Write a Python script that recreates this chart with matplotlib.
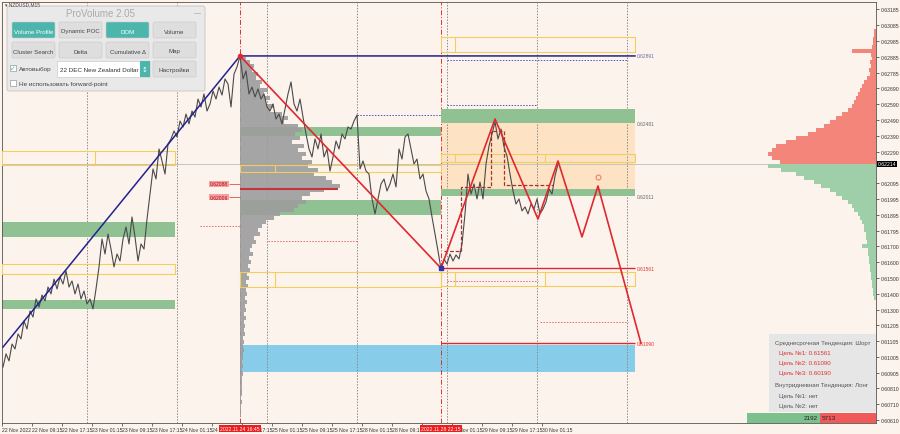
import numpy as np
import matplotlib.pyplot as plt
from matplotlib.patches import Rectangle, FancyBboxPatch

# ---- data --------------------------------------------------------------
# close price, one sample every 48 min from 22 Nov 01:30 (trading-hours clock)
price = [
    0.60942, 0.61024, 0.60980, 0.61086, 0.61055, 0.61149, 0.61118, 0.61230, 0.61180, 0.61293,
    0.61255, 0.61368, 0.61318, 0.61393, 0.61356, 0.61443, 0.61400, 0.61493, 0.61431, 0.61506,
    0.61462, 0.61544, 0.61443, 0.61481, 0.61400, 0.61462, 0.61368, 0.61418, 0.61337, 0.61368,
    0.61306, 0.61431, 0.61569, 0.61744, 0.61650, 0.61775, 0.61681, 0.61569, 0.61650, 0.61606,
    0.61744, 0.61819, 0.61713, 0.61882, 0.61757, 0.61606, 0.61713, 0.61681, 0.61869, 0.62026,
    0.62183, 0.62120, 0.62308, 0.62233, 0.62151, 0.62339, 0.62371, 0.62421, 0.62383, 0.62483,
    0.62446, 0.62527, 0.62465, 0.62546, 0.62508, 0.62621, 0.62571, 0.62653, 0.62546, 0.62590,
    0.62671, 0.62621, 0.62696, 0.62646, 0.62747, 0.62715, 0.62571, 0.62778, 0.62822, 0.62891,
    0.62747, 0.62797, 0.62653, 0.62696, 0.62634, 0.62684, 0.62621, 0.62653, 0.62571, 0.62546,
    0.62590, 0.62496, 0.62527, 0.62465, 0.62559, 0.62653, 0.62728, 0.62590, 0.62546, 0.62621,
    0.62508, 0.62402, 0.62308, 0.62258, 0.62371, 0.62308, 0.62402, 0.62258, 0.62308, 0.62170,
    0.62258, 0.62358, 0.62308, 0.62402, 0.62371, 0.62446, 0.62433, 0.62483, 0.62521, 0.62183,
    0.62233, 0.62170, 0.62151, 0.61995, 0.61901, 0.61995, 0.62089, 0.62120, 0.62045, 0.62089,
    0.62151, 0.62070, 0.62308, 0.62245, 0.62383, 0.62402, 0.62308, 0.62214, 0.62245, 0.62120,
    0.62151, 0.62045, 0.61995, 0.61882, 0.61775, 0.61669, 0.61556,
    0.61619, 0.61587, 0.61650, 0.61606, 0.61644, 0.61619, 0.61713, 0.61901, 0.62151, 0.62026,
    0.62089, 0.61995, 0.62101, 0.61995, 0.62214, 0.62327, 0.62402, 0.62477, 0.62371, 0.62433,
    0.62321, 0.62264, 0.62151, 0.62045, 0.61963, 0.61995, 0.61920, 0.61945, 0.61901, 0.61963,
    0.61932, 0.61995, 0.61901, 0.61932, 0.61976, 0.62057, 0.62026, 0.62139, 0.62214,
]
t_start, t_step = 0.27, 0.8
last_price = 0.62214

zigzag_t = [63.47, 117.07, 131.47, 142.93, 148.27, 154.67, 158.93, 170.4]
zigzag_p = [0.62891, 0.61561, 0.62496, 0.61869, 0.62233, 0.61757, 0.62076, 0.61090]

trend_t = [0.27, 63.47, 168.8]
trend_p = [0.61067, 0.62891, 0.62891]

step_t = [118.0, 122.4, 122.4, 130.4, 130.4, 133.9, 133.9, 146.9]
step_p = [0.61669, 0.61669, 0.62070, 0.62070, 0.62421, 0.62421, 0.62083, 0.62083]

# zones: (t_from, t_to, p_low, p_high)
green_zones = [(0.0, 46.13, 0.61757, 0.61851), (0.0, 46.13, 0.61306, 0.61362),
               (63.47, 117.07, 0.62389, 0.62446), (63.47, 117.07, 0.61894, 0.61988),
               (117.07, 168.8, 0.62470, 0.62560), (117.07, 168.8, 0.62011, 0.62057)]
peach_zone = (117.07, 168.8, 0.62057, 0.62470)
blue_zone = (63.47, 168.8, 0.60911, 0.61080)
yellow_zones = [(117.07, 168.8, 0.62916, 0.63009, [120.8]),
                (0.0, 46.13, 0.62207, 0.62295, [24.8]),
                (63.47, 117.07, 0.62164, 0.62208, [72.8]),
                (117.07, 168.8, 0.62227, 0.62277, [120.8, 144.8]),
                (0.0, 46.13, 0.61525, 0.61587, []),
                (63.47, 117.07, 0.61443, 0.61537, [72.8]),
                (117.07, 168.8, 0.61450, 0.61537, [120.8, 144.8])]
red_levels = [(117.07, 168.8, 0.61561), (117.07, 168.8, 0.61090)]
red_dotted = [(52.8, 63.47, 0.61826), (70.93, 94.67, 0.61731),
              (118.67, 142.93, 0.61481), (143.47, 166.93, 0.61224)]
blue_dotted = [(94.67, 117.07, 0.62521), (118.67, 142.67, 0.62584),
               (118.67, 166.93, 0.62865)]
level_labels = [("0.62891", 0.62891, "#6a6a9a"), ("0.62481", 0.62470, "#666666"),
                ("0.62011", 0.62011, "#666666"), ("0.61561", 0.61561, "#e03030"),
                ("0.61090", 0.61090, "#e03030")]

# volume profile of the 24-28 Nov session, top level and volumes per 0.00025 step
vp_top, vp_step, vp_start = 0.62875, 0.00025, 63.47
vp_volume = [6, 10, 14, 12, 18, 16, 22, 20, 28, 24, 30, 26, 34, 30, 42, 48, 44, 58, 62, 55,
             60, 52, 64, 58, 66, 62, 72, 68, 78, 74, 86, 92, 100, 84, 70, 62, 66, 58, 54, 40,
             34, 26, 22, 18, 20, 14, 16, 12, 10, 13, 9, 11, 8, 10, 7, 9, 6, 8, 6, 7,
             5, 7, 5, 6, 4, 6, 4, 5, 4, 5, 3, 4, 3, 4, 3, 3, 2, 3, 2, 3,
             2, 2, 2, 2, 2, 1, 2, 1, 1, 1]
poc_p, poc_end = 0.62057, 89.6
vp_labels = [("0.62088", 0.62089), ("0.62006", 0.62007)]

# order book depth, per 0.00025 step from top
dom_top = 0.63075
dom_volume = [0, 2, 2, 3, 3, 4, 24, 5, 4, 6, 5, 7, 6, 9, 12, 14, 16, 18, 20, 22,
              24, 28, 34, 40, 46, 52, 60, 68, 80, 90, 100, 104, 108, 104, 96,
              108, 95, 80, 72, 62, 55, 46, 40, 34, 28, 24, 22, 18, 16, 14,
              12, 12, 10, 10, 9, 14, 8, 8, 7, 7, 6, 6, 5, 5, 4, 4, 3, 3, 2]

day_sep_t = [22.75, 46.75, 70.75, 94.75, 118.75, 142.75, 166.75]
session_t = [63.47, 117.07]
session_labels = ["2022.11.24 16:45", "2022.11.28 22:15"]

time_labels = ["22 Nov 2022", "22 Nov 09:15", "22 Nov 17:15", "23 Nov 01:15", "23 Nov 09:15",
               "23 Nov 17:15", "24 Nov 01:15", "24 Nov 09:15", "24 Nov 17:15", "25 Nov 01:15",
               "25 Nov 09:15", "25 Nov 17:15", "28 Nov 01:15", "28 Nov 09:15", "28 Nov 17:15",
               "29 Nov 01:15", "29 Nov 09:15", "29 Nov 17:15", "30 Nov 01:15"]
price_ticks = [0.63185, 0.63085, 0.62985, 0.62885, 0.62785, 0.62690, 0.62590, 0.62490,
               0.62390, 0.62290, 0.62095, 0.61995, 0.61895, 0.61795, 0.61700, 0.61600,
               0.61500, 0.61400, 0.61300, 0.61205, 0.61105, 0.61005, 0.60905, 0.60810,
               0.60710, 0.60610]

# ---- figure ------------------------------------------------------------
bg = "#fdf3ed"
plt.rcParams["font.family"] = ["Liberation Sans", "DejaVu Sans"]
fig = plt.figure(figsize=(9, 4.35), dpi=100, facecolor=bg)
ax = fig.add_axes([2 / 900, 11 / 435, 874 / 900, 421 / 435])
ax.set_facecolor(bg)
xmax = 233.07
ax.set_xlim(0, xmax)
ax.set_ylim(0.60591, 0.63229)

for t0, t1, lo, hi in green_zones:
    ax.add_patch(Rectangle((t0, lo), t1 - t0, hi - lo, fc="#8fc193", ec="none", zorder=2))
t0, t1, lo, hi = peach_zone
ax.add_patch(Rectangle((t0, lo), t1 - t0, hi - lo, fc="#fde3c4", ec="none", zorder=1))
t0, t1, lo, hi = blue_zone
ax.add_patch(Rectangle((t0, lo), t1 - t0, hi - lo, fc="#87cdea", ec="none", zorder=1))
for t0, t1, lo, hi, splits in yellow_zones:
    ax.add_patch(Rectangle((t0, lo), t1 - t0, hi - lo, fill=False, ec="#f0cf5a", lw=0.8, zorder=3))
    for s in splits:
        ax.vlines(s, lo, hi, color="#f0cf5a", lw=0.8, zorder=3)

# volume profile
vp_p = vp_top - vp_step * np.arange(len(vp_volume))
ax.barh(vp_p, np.array(vp_volume) / 3.75, left=vp_start, height=vp_step,
        color="#9d9d9d", edgecolor="none", alpha=0.9, zorder=2.5)
ax.hlines(poc_p, vp_start, poc_end, color="#c8323a", lw=1.5, zorder=3)
for txt, p in vp_labels:
    ax.text(60.3, p, txt, fontsize=3.6, color="#b01010", ha="right", va="center",
            bbox=dict(fc="#f4a0a0", ec="none", pad=0.6), zorder=6)
    ax.hlines(p, 60.5, vp_start, color="#e05050", lw=0.6, zorder=6)

# order book depth on the right edge
dom_p = dom_top - vp_step * np.arange(len(dom_volume))
dom_w = np.array(dom_volume) / 3.75
ask = dom_p > last_price
ax.barh(dom_p[ask], -dom_w[ask], left=xmax, height=vp_step, color="#f4857b", edgecolor="none", zorder=2)
ax.barh(dom_p[~ask], -dom_w[~ask], left=xmax, height=vp_step, color="#9fcfa8", edgecolor="none", zorder=2)

# grid-like separators
for t in day_sep_t:
    ax.axvline(t, color="#8a8a8a", ls=(0, (1.5, 1.5)), lw=0.7, zorder=1.5)
for t in session_t:
    ax.axvline(t, color="#e03030", ls=(0, (5, 2, 1, 2)), lw=0.7, zorder=1.5)
ax.axhline(last_price, color="#bdbdbd", lw=0.6, zorder=1.6)

for t0, t1, p in red_levels:
    ax.hlines(p, t0, t1, color="#e0282e", lw=1.0, zorder=4)
for t0, t1, p in red_dotted:
    ax.hlines(p, t0, t1, color="#e46a6a", lw=0.7, ls=(0, (1.5, 1.5)), zorder=4)
for t0, t1, p in blue_dotted:
    ax.hlines(p, t0, t1, color="#5050c0", lw=0.7, ls=(0, (1.5, 1.5)), zorder=4)
for txt, p, c in level_labels:
    ax.text(169.3, p, txt, fontsize=3.5, color=c, ha="left", va="center", zorder=6)

# price and analysis lines
t = t_start + t_step * np.arange(len(price))
ax.plot(t, price, color="#4a4a4a", lw=0.8, zorder=5)
ax.plot(trend_t, trend_p, color="#22228e", lw=1.1, zorder=6)
ax.plot(step_t, step_p, color="#a83030", lw=0.9, ls=(0, (3, 1.5)), zorder=6)
ax.plot(zigzag_t, zigzag_p, color="#e0282e", lw=1.2, zorder=7)
ax.plot(zigzag_t[0], zigzag_p[0], "o", color="#e0282e", ms=3, zorder=8)
ax.plot(zigzag_t[1], zigzag_p[1], "s", color="#3030b0", ms=3, zorder=8)
ax.plot(158.9, 0.62133, "o", mfc="none", mec="#f08070", ms=3.5, mew=0.8, zorder=8)

# axes styling
ax.yaxis.tick_right()
ax.set_yticks(price_ticks)
ax.set_yticklabels([f"{v:.5f}" for v in price_ticks])
ax.set_xticks(np.arange(len(time_labels)) * 8)
ax.set_xticklabels(time_labels, ha="left")
ax.tick_params(axis="both", labelsize=3.7, colors="#333333", length=2, width=0.5, pad=1.2)
for s in ax.spines.values():
    s.set_color("#555555")
    s.set_linewidth(0.6)

ax.text(1.002, last_price, f"{last_price:.5f}", transform=ax.get_yaxis_transform(),
        fontsize=3.7, color="white", ha="left", va="center",
        bbox=dict(fc="black", ec="none", pad=0.7), zorder=10, clip_on=False)
for st, lab in zip(session_t, session_labels):
    ax.text(st, -0.007, lab, transform=ax.get_xaxis_transform(), fontsize=3.7, color="white",
            ha="center", va="top", bbox=dict(fc="#ee1c1c", ec="none", pad=0.8),
            zorder=10, clip_on=False)

# ---- overlay widgets (pixel coordinates) -------------------------------
ui = fig.add_axes([0, 0, 1, 1])
ui.set_xlim(0, 900)
ui.set_ylim(435, 0)
ui.axis("off")
ui.patch.set_alpha(0)
ui.set_zorder(5)

ui.text(5, 5, "▾ NZDUSD,M15", fontsize=3.5, color="#444444", va="center")

ui.add_patch(FancyBboxPatch((7, 7), 198, 85, boxstyle="round,pad=0,rounding_size=2",
                            fc="#e9e9e9", ec="#c4c4c4", lw=0.6))
ui.text(100, 14, "ProVolume 2.05", fontsize=7, color="#ababab", ha="center", va="center")
ui.text(197, 14, "—", fontsize=5, color="#999999", ha="center", va="center")

buttons = [["Volume Profile", "Dynamic POC", "DOM", "Volume"],
           ["Cluster Search", "Delta", "Cumulative Δ", "Map"]]
active = {"Volume Profile", "DOM"}
for r, (row, y0) in enumerate(zip(buttons, [23, 43])):
    for c, name in enumerate(row):
        x0 = 12 + c * 47
        on = name in active
        ui.add_patch(FancyBboxPatch((x0, y0), 43, 16, boxstyle="round,pad=0,rounding_size=1.5",
                                    fc="#4db6ac" if on else "#dedede", ec="#c8c8c8", lw=0.4))
        ui.text(x0 + 21.5, y0 + 9, name, fontsize=4.4, ha="center", va="center",
                color="white" if on else "#444444")

ui.add_patch(Rectangle((10, 66), 6, 6, fc="white", ec="#9a9a9a", lw=0.5))
ui.text(13, 68.5, "✓", fontsize=5, color="#4db6ac", ha="center", va="center",
        family="DejaVu Sans")
ui.text(19, 70, "Автовыбор", fontsize=4.6, color="#444444", va="center")
ui.add_patch(Rectangle((57, 62), 93, 16, fc="white", ec="#cccccc", lw=0.5))
ui.text(60, 70.5, "22 DEC New Zealand Dollar", fontsize=4.5, color="#333333", va="center")
ui.add_patch(Rectangle((140, 62), 10, 16, fc="#4db6ac", ec="none"))
ui.text(145, 70, "↕", fontsize=5, color="white", ha="center", va="center",
        family="DejaVu Sans")
ui.add_patch(FancyBboxPatch((153, 62), 43, 16, boxstyle="round,pad=0,rounding_size=1.5",
                            fc="#dedede", ec="#c8c8c8", lw=0.4))
ui.text(174.5, 70.5, "Настройки", fontsize=4.6, color="#444444", ha="center", va="center")
ui.add_patch(Rectangle((10, 81), 6, 6, fc="white", ec="#9a9a9a", lw=0.5))
ui.text(19, 84.5, "Не использовать forward-point", fontsize=4.6, color="#444444", va="center")

# info box
ui.add_patch(Rectangle((769, 335), 107, 78, fc="#e6e6e6", ec="none"))
info = [("Среднесрочная Тенденция: Шорт", 344, "#555555", 775),
        ("Цель №1: 0.61561", 353.5, "#e03030", 779),
        ("Цель №2: 0.61090", 363.5, "#e03030", 779),
        ("Цель №3: 0.60190", 373.5, "#e03030", 779),
        ("Внутридневная Тенденция: Лонг", 386, "#555555", 775),
        ("Цель №1: нет", 396, "#555555", 779),
        ("Цель №2: нет", 406, "#555555", 779)]
for txt, y, c, x in info:
    ui.text(x, y, txt, fontsize=4.4, color=c, va="center")

ui.add_patch(Rectangle((747, 414), 73, 9.5, fc="#7cc08e", ec="none"))
ui.add_patch(Rectangle((820, 414), 56, 9.5, fc="#f05a5a", ec="none"))
ui.text(818, 419, "2192", fontsize=4.6, color="#222222", ha="right", va="center")
ui.text(822, 419, "5713", fontsize=4.6, color="#222222", ha="left", va="center")

fig.savefig("out.png", dpi=100, facecolor=bg)
